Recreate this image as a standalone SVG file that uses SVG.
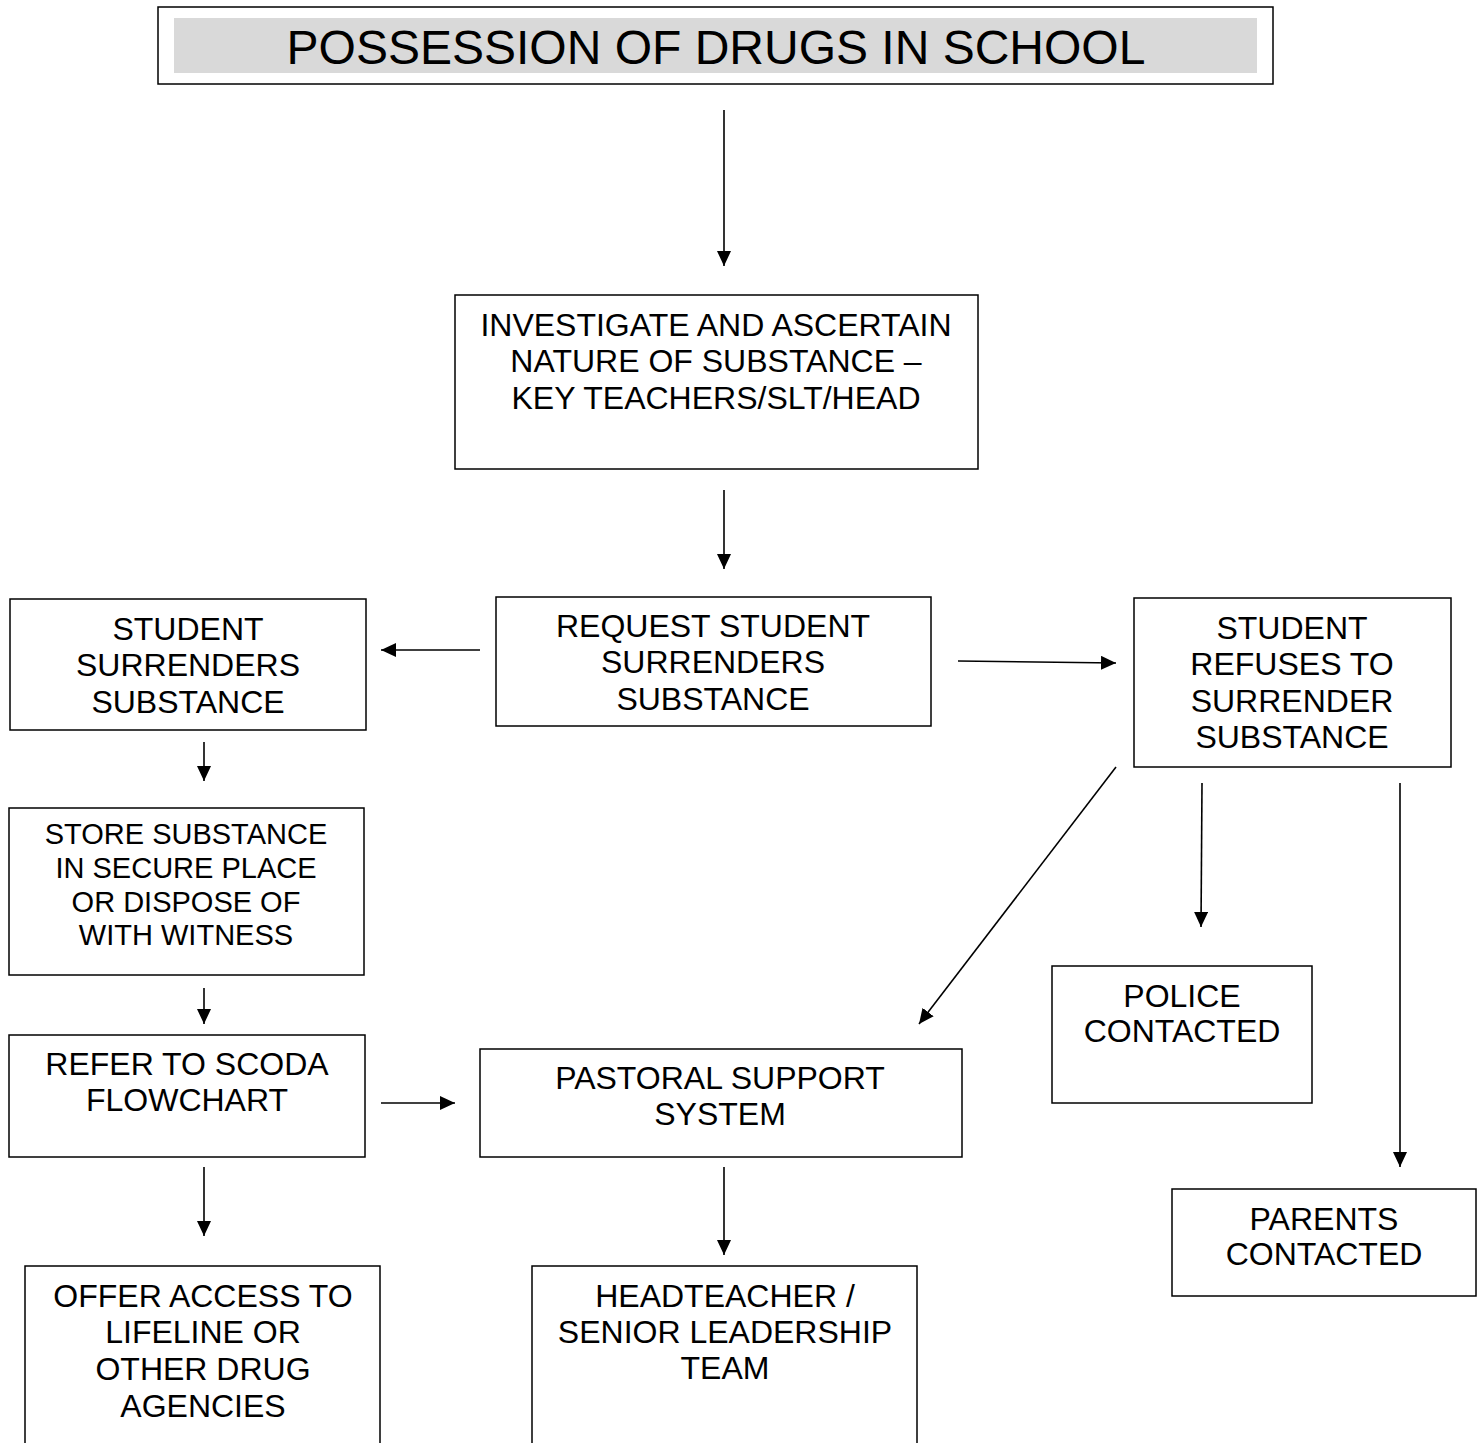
<svg xmlns="http://www.w3.org/2000/svg" width="1479" height="1443" viewBox="0 0 1479 1443">
<style>
.box{fill:#fff;stroke:#000;stroke-width:1.5}
.t{font-family:"Liberation Sans",Arial,sans-serif;font-size:32px;fill:#000;text-anchor:middle}
.s{font-size:29px}
.c{stroke:#000;stroke-width:1.6;fill:none;marker-end:url(#ah)}
</style>
<defs>
<marker id="ah" viewBox="0 0 15 14" refX="15" refY="7" markerWidth="15" markerHeight="14" markerUnits="userSpaceOnUse" orient="auto">
<path d="M0,0 L15,7 L0,14 z" fill="#000"/>
</marker>
</defs>
<rect width="1479" height="1443" fill="#fff"/>
<g id="title">
<rect class="box" x="158" y="7" width="1115" height="77"/>
<rect x="174" y="18" width="1083" height="55" fill="#d9d9d9"/>
<text class="t" x="716" y="64" style="font-size:48px">POSSESSION OF DRUGS IN SCHOOL</text>
</g>
<g id="investigate">
<rect class="box" x="455" y="295" width="523" height="174"/>
<text class="t" x="716" y="336">INVESTIGATE AND ASCERTAIN</text>
<text class="t" x="716" y="372">NATURE OF SUBSTANCE –</text>
<text class="t" x="716" y="409">KEY TEACHERS/SLT/HEAD</text>
</g>
<g id="request">
<rect class="box" x="496" y="597" width="435" height="129"/>
<text class="t" x="713" y="637">REQUEST STUDENT</text>
<text class="t" x="713" y="673">SURRENDERS</text>
<text class="t" x="713" y="710">SUBSTANCE</text>
</g>
<g id="surrenders">
<rect class="box" x="10" y="599" width="356" height="131"/>
<text class="t" x="188" y="640">STUDENT</text>
<text class="t" x="188" y="676">SURRENDERS</text>
<text class="t" x="188" y="713">SUBSTANCE</text>
</g>
<g id="refuses">
<rect class="box" x="1134" y="598" width="317" height="169"/>
<text class="t" x="1292" y="639">STUDENT</text>
<text class="t" x="1292" y="675">REFUSES TO</text>
<text class="t" x="1292" y="712">SURRENDER</text>
<text class="t" x="1292" y="748">SUBSTANCE</text>
</g>
<g id="store">
<rect class="box" x="9" y="808" width="355" height="167"/>
<text class="t s" x="186" y="844">STORE SUBSTANCE</text>
<text class="t s" x="186" y="878">IN SECURE PLACE</text>
<text class="t s" x="186" y="912">OR DISPOSE OF</text>
<text class="t s" x="186" y="945">WITH WITNESS</text>
</g>
<g id="scoda">
<rect class="box" x="9" y="1035" width="356" height="122"/>
<text class="t" x="187" y="1075">REFER TO SCODA</text>
<text class="t" x="187" y="1111">FLOWCHART</text>
</g>
<g id="pastoral">
<rect class="box" x="480" y="1049" width="482" height="108"/>
<text class="t" x="720" y="1089">PASTORAL SUPPORT</text>
<text class="t" x="720" y="1125">SYSTEM</text>
</g>
<g id="police">
<rect class="box" x="1052" y="966" width="260" height="137"/>
<text class="t" x="1182" y="1007">POLICE</text>
<text class="t" x="1182" y="1042">CONTACTED</text>
</g>
<g id="parents">
<rect class="box" x="1172" y="1189" width="304" height="107"/>
<text class="t" x="1324" y="1230">PARENTS</text>
<text class="t" x="1324" y="1265">CONTACTED</text>
</g>
<g id="offer">
<path class="box" d="M25,1445 V1266 H380 V1445"/>
<text class="t" x="203" y="1307">OFFER ACCESS TO</text>
<text class="t" x="203" y="1343">LIFELINE OR</text>
<text class="t" x="203" y="1380">OTHER DRUG</text>
<text class="t" x="203" y="1417">AGENCIES</text>
</g>
<g id="headteacher">
<path class="box" d="M532,1445 V1266 H917 V1445"/>
<text class="t" x="725" y="1307">HEADTEACHER /</text>
<text class="t" x="725" y="1343">SENIOR LEADERSHIP</text>
<text class="t" x="725" y="1379">TEAM</text>
</g>
<g id="connectors">
<line class="c" x1="724" y1="110" x2="724" y2="266"/>
<line class="c" x1="724" y1="490" x2="724" y2="569"/>
<line class="c" x1="480" y1="650" x2="381" y2="650"/>
<line class="c" x1="958" y1="661" x2="1116" y2="663"/>
<line class="c" x1="204" y1="742" x2="204" y2="781"/>
<line class="c" x1="204" y1="988" x2="204" y2="1024"/>
<line class="c" x1="381" y1="1103" x2="455" y2="1103"/>
<line class="c" x1="204" y1="1167" x2="204" y2="1236"/>
<line class="c" x1="724" y1="1167" x2="724" y2="1255"/>
<line class="c" x1="1116" y1="767" x2="919" y2="1024"/>
<line class="c" x1="1202" y1="783" x2="1201" y2="927"/>
<line class="c" x1="1400" y1="783" x2="1400" y2="1167"/>
</g>
</svg>
